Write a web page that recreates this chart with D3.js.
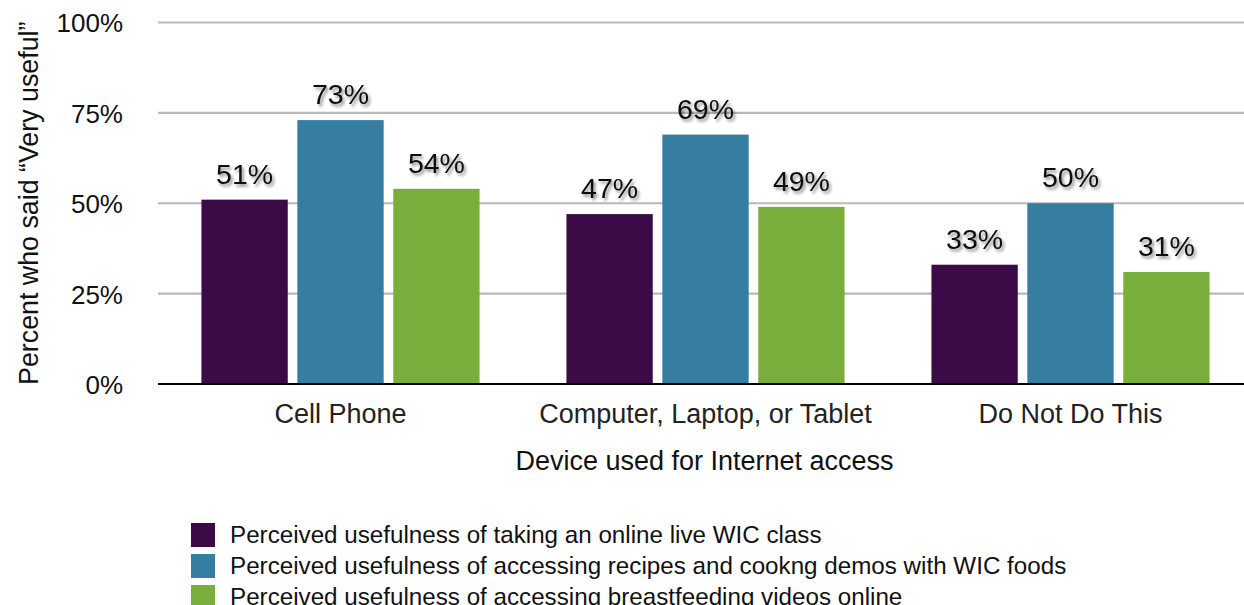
<!DOCTYPE html>
<html>
<head>
<meta charset="utf-8">
<script src="https://cdn.jsdelivr.net/npm/d3@7"></script>
<style>
  html, body { margin: 0; padding: 0; background: #fff; }
  svg { display: block; font-family: "Liberation Sans", Arial, Helvetica, sans-serif; }
</style>
</head>
<body>
<svg id="chart" width="1244" height="605"></svg>
<script>
// Device used for Internet access vs. share saying "Very useful"
const categories = ["Cell Phone", "Computer, Laptop, or Tablet", "Do Not Do This"];
const seriesNames = [
  "Perceived usefulness of taking an online live WIC class",
  "Perceived usefulness of accessing recipes and cookng demos with WIC foods",
  "Perceived usefulness of accessing breastfeeding videos online"
];
const liveClass = [51, 47, 33];
const recipes = [73, 69, 50];
const breastfeeding = [54, 49, 31];
const yTicks = [0, 25, 50, 75, 100];
const colors = ["#3c0b47", "#357da1", "#7aae3c"];

const seriesValues = [liveClass, recipes, breastfeeding];

const svg = d3.select("#chart");
const W = 1244;

const plotLeft = 158, plotRight = 1253, plotTop = 22.5, plotBottom = 384;

const x0 = d3.scaleBand().domain(categories).range([plotLeft, plotRight]).padding(0);
const x1 = d3.scaleBand().domain(d3.range(seriesNames.length))
  .range([0, x0.bandwidth()]).paddingInner(0.1).paddingOuter(0.453);
const y = d3.scaleLinear().domain([0, 100]).range([plotBottom, plotTop]);

// drop shadow for value labels
const defs = svg.append("defs");
const f = defs.append("filter").attr("id", "lblShadow")
  .attr("x", "-20%").attr("y", "-30%").attr("width", "150%").attr("height", "170%");
f.append("feDropShadow").attr("dx", 2).attr("dy", 2.5).attr("stdDeviation", 1.6)
  .attr("flood-color", "#000").attr("flood-opacity", 0.45);

// gridlines
svg.append("g").selectAll("line")
  .data(yTicks.filter(d => d > 0))
  .join("line")
  .attr("x1", plotLeft).attr("x2", W)
  .attr("y1", d => y(d)).attr("y2", d => y(d))
  .attr("stroke", "#b9b9b9").attr("stroke-width", 2.2);

// y-axis tick labels
const yAxis = d3.axisLeft(y).tickValues(yTicks).tickFormat(d => d + "%").tickSize(0).tickPadding(0);
const ya = svg.append("g").attr("transform", `translate(123,0)`).call(yAxis);
ya.select(".domain").remove();
ya.selectAll("text").attr("font-size", 26).attr("fill", "#111")
  .attr("font-family", "Liberation Sans, Arial, sans-serif").attr("dy", "0.36em");

// bars
const groups = svg.append("g").selectAll("g")
  .data(categories)
  .join("g")
  .attr("transform", d => `translate(${x0(d)},0)`);

groups.selectAll("rect")
  .data((c, ci) => seriesValues.map((vals, si) => ({ si, v: vals[ci] })))
  .join("rect")
  .attr("x", d => x1(d.si))
  .attr("width", x1.bandwidth())
  .attr("y", d => y(d.v))
  .attr("height", d => y(0) - y(d.v))
  .attr("fill", d => colors[d.si]);

groups.selectAll("text.val")
  .data((c, ci) => seriesValues.map((vals, si) => ({ si, v: vals[ci] })))
  .join("text")
  .attr("class", "val")
  .attr("x", d => x1(d.si) + x1.bandwidth() / 2)
  .attr("y", d => y(d.v) - 16)
  .attr("text-anchor", "middle")
  .attr("font-size", 28.5)
  .attr("fill", "#111")
  .attr("filter", "url(#lblShadow)")
  .text(d => d.v + "%");

// baseline
svg.append("line")
  .attr("x1", plotLeft).attr("x2", W)
  .attr("y1", y(0)).attr("y2", y(0))
  .attr("stroke", "#000").attr("stroke-width", 2.2);

// category labels
const xAxis = d3.axisBottom(x0).tickSize(0).tickPadding(0);
const xa = svg.append("g").attr("transform", `translate(0,${plotBottom + 39})`).call(xAxis);
xa.select(".domain").remove();
xa.selectAll("text").attr("font-size", 27).attr("fill", "#222").attr("dy", 0)
  .attr("font-family", "Liberation Sans, Arial, sans-serif");

// axis titles
svg.append("text")
  .attr("x", (plotLeft + plotRight) / 2 - 1).attr("y", 470)
  .attr("text-anchor", "middle").attr("font-size", 27).attr("fill", "#111")
  .text("Device used for Internet access");

svg.append("text")
  .attr("transform", `translate(38,${(plotTop + plotBottom) / 2}) rotate(-90)`)
  .attr("text-anchor", "middle").attr("font-size", 26.8).attr("fill", "#111")
  .text("Percent who said \u201CVery useful\u201D");

// legend
const legend = svg.append("g").attr("transform", "translate(191,523)");
const items = legend.selectAll("g").data(seriesNames).join("g")
  .attr("transform", (d, i) => `translate(0,${i * 31})`);
items.append("rect").attr("width", 24).attr("height", 24).attr("fill", (d, i) => colors[i]);
items.append("text").attr("x", 39).attr("y", 20)
  .attr("font-size", 24.2).attr("fill", "#111").text(d => d);
</script>
</body>
</html>
